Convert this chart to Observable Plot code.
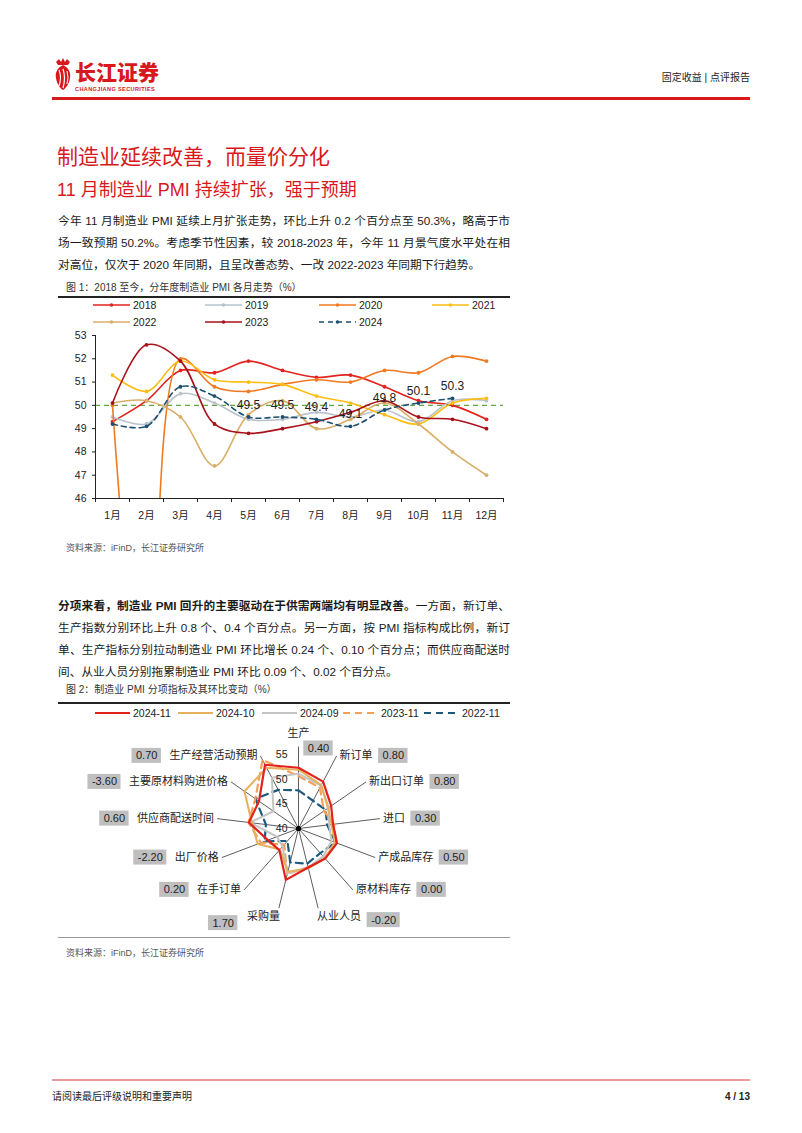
<!DOCTYPE html>
<html><head><meta charset="utf-8">
<script src="https://cdn.jsdelivr.net/npm/d3@7"></script>
<script src="https://cdn.jsdelivr.net/npm/@observablehq/plot@0.6"></script>
<style>
html,body{margin:0;padding:0;background:#fff}
body{width:802px;height:1133px;position:relative;overflow:hidden;font-family:"Liberation Sans","Noto Sans CJK SC",sans-serif;color:#222}
.abs{position:absolute}
.line{position:absolute;left:58px;width:452px;height:22px;line-height:22px;font-size:11.7px;white-space:nowrap;text-align:justify;text-align-last:justify;color:#1a1a1a}
.line.last{text-align-last:left}
.cap{position:absolute;left:66px;font-size:10px;line-height:14px;color:#333;white-space:nowrap}
.src{position:absolute;left:66px;font-size:9px;line-height:12px;color:#555;white-space:nowrap}
.leg{position:absolute;font-size:10.5px;line-height:12px;color:#222;white-space:nowrap;display:flex;align-items:center}
.leg svg{margin-right:3px}
</style></head><body>

<!-- header -->
<svg class="abs" style="left:52px;top:57px" width="22" height="34" viewBox="0 0 22 34">
  <path d="M4 5 L7 2 L9 5 L11 1 L13 5 L15 2 L18 5 L16 8 L6 8 Z" fill="#d7191c"/>
  <path d="M11 8 C5 11 3 16 4 21 C5 28 9 32 11 33 C13 32 17 28 18 21 C19 16 17 11 11 8Z" fill="#d7191c"/>
  <path d="M7 13 Q10 20 7 29" stroke="#fff" stroke-width="1.2" fill="none"/>
  <path d="M11 12 Q14 21 11 31" stroke="#fff" stroke-width="1.2" fill="none"/>
  <path d="M15 14 Q17 20 15 27" stroke="#fff" stroke-width="1" fill="none"/>
</svg>
<div class="abs" style="left:75px;top:59px;font-size:21px;line-height:24px;font-weight:900;color:#d7191c;font-family:'Noto Sans CJK SC',sans-serif">长江证券</div>
<div class="abs" style="left:75px;top:85.5px;font-size:5.6px;line-height:6px;font-weight:bold;color:#d7191c;letter-spacing:0.35px">CHANGJIANG SECURITIES</div>
<div class="abs" style="right:52px;top:71px;font-size:10px;line-height:14px;color:#222;white-space:nowrap">固定收益 | 点评报告</div>
<div class="abs" style="left:52px;top:97px;width:698px;height:2.5px;background:#d7191c"></div>

<!-- titles -->
<div class="abs" style="left:57px;top:144px;font-size:21px;line-height:26px;color:#d7191c;white-space:nowrap">制造业延续改善，而量价分化</div>
<div class="abs" style="left:57px;top:178px;font-size:18px;line-height:24px;color:#d7191c;white-space:nowrap">11 月制造业 PMI 持续扩张，强于预期</div>

<!-- paragraph 1 -->
<div class="line" style="top:210px">今年 11 月制造业 PMI 延续上月扩张走势，环比上升 0.2 个百分点至 50.3%，略高于市</div>
<div class="line" style="top:232px">场一致预期 50.2%。考虑季节性因素，较 2018-2023 年，今年 11 月景气度水平处在相</div>
<div class="line last" style="top:254px">对高位，仅次于 2020 年同期，且呈改善态势、一改 2022-2023 年同期下行趋势。</div>

<!-- figure 1 -->
<div class="cap" style="top:281px">图 1：2018 至今，分年度制造业 PMI 各月走势（%）</div>
<div class="abs" style="left:58px;top:296px;width:452px;height:1.5px;background:#222"></div>
<div id="legend1"></div>
<div id="chart1" class="abs" style="left:52px;top:328px"></div>
<div class="src" style="top:542px">资料来源：iFinD，长江证券研究所</div>

<!-- paragraph 2 -->
<div class="line" style="top:595px"><b>分项来看，制造业 PMI 回升的主要驱动在于供需两端均有明显改善。</b>一方面，新订单、</div>
<div class="line" style="top:617px">生产指数分别环比上升 0.8 个、0.4 个百分点。另一方面，按 PMI 指标构成比例，新订</div>
<div class="line" style="top:639px">单、生产指标分别拉动制造业 PMI 环比增长 0.24 个、0.10 个百分点；而供应商配送时</div>
<div class="line last" style="top:661px">间、从业人员分别拖累制造业 PMI 环比 0.09 个、0.02 个百分点。</div>

<!-- figure 2 -->
<div class="cap" style="top:683px">图 2：制造业 PMI 分项指标及其环比变动（%）</div>
<div class="abs" style="left:58px;top:702px;width:452px;height:1.5px;background:#222"></div>
<div id="legend2"></div>
<div id="chart2" class="abs" style="left:52px;top:720px"></div>
<div class="abs" style="left:58px;top:937px;width:452px;height:1px;background:#9a9a9a"></div>
<div class="src" style="top:947px">资料来源：iFinD，长江证券研究所</div>

<!-- footer -->
<div class="abs" style="left:52px;top:1079px;width:698px;height:1.5px;background:#ef9a9a"></div>
<div class="abs" style="left:52px;top:1090px;font-size:10px;line-height:14px;color:#222;white-space:nowrap">请阅读最后评级说明和重要声明</div>
<div class="abs" style="right:52px;top:1090px;font-size:10px;line-height:14px;color:#222;font-weight:bold;white-space:nowrap">4 / 13</div>

<script>
// ---------------- Figure 1 data ----------------
const months = ["1月","2月","3月","4月","5月","6月","7月","8月","9月","10月","11月","12月"];
const years = ["2018","2019","2020","2021","2022","2023","2024"];
const pmi2018 = [49.3, 50.2, 51.5, 51.4, 51.9, 51.5, 51.2, 51.3, 50.8, 50.2, 50.0, 49.4];
const pmi2019 = [49.5, 49.2, 50.5, 50.1, 49.4, 49.4, 49.7, 49.5, 49.8, 49.3, 50.2, 50.2];
const pmi2020 = [50.0, 35.7, 52.0, 50.8, 50.6, 50.9, 51.1, 51.0, 51.5, 51.4, 52.1, 51.9];
const pmi2021 = [51.3, 50.6, 51.9, 51.1, 51.0, 50.9, 50.4, 50.1, 49.6, 49.2, 50.1, 50.3];
const pmi2022 = [50.1, 50.2, 49.5, 47.4, 49.6, 50.2, 49.0, 49.4, 50.1, 49.2, 48.0, 47.0];
const pmi2023 = [50.1, 52.6, 51.9, 49.2, 48.8, 49.0, 49.3, 49.7, 50.2, 49.5, 49.4, 49.0];
const pmi2024 = [49.2, 49.1, 50.8, 50.4, 49.5, 49.5, 49.4, 49.1, 49.8, 50.1, 50.3];
const labelFromMonth = 5; // 2024 values labelled from May
const yTicks = [46, 47, 48, 49, 50, 51, 52, 53];
const baseline = 50;

// ---------------- Figure 2 data ----------------
const indicators = ["生产","新订单","新出口订单","进口","产成品库存","原材料库存","从业人员","采购量","在手订单","出厂价格","供应商配送时间","主要原材料购进价格","生产经营活动预期"];
const momChange = [0.40, 0.80, 0.80, 0.30, 0.50, 0.00, -0.20, 1.70, 0.20, -2.20, 0.60, -3.60, 0.70];
const v2024_11 = [52.4, 50.8, 48.1, 47.1, 48.4, 48.2, 48.2, 50.8, 45.9, 46.7, 50.2, 49.8, 54.7];
const v2024_10 = [52.0, 50.0, 47.3, 46.8, 47.9, 48.2, 48.4, 49.1, 45.7, 48.9, 49.6, 53.4, 54.0];
const v2024_09 = [51.2, 49.9, 47.5, 46.3, 47.2, 47.6, 48.2, 49.4, 44.9, 44.7, 50.0, 46.2, 51.7];
const v2023_11 = [50.7, 49.4, 46.3, 47.3, 48.2, 48.0, 48.1, 49.6, 44.4, 48.2, 50.3, 50.7, 55.8];
const v2022_11 = [47.8, 46.4, 46.7, 45.9, 48.1, 46.7, 47.4, 47.1, 43.4, 47.4, 46.7, 50.7, 48.9];
const radialTicks = [40, 45, 50, 55];

// ---------------- styles ----------------
const FONT = '"Liberation Sans","Noto Sans CJK SC",sans-serif';
const yearStyle = {
  "2018": {color: "#e3231f", dash: null},
  "2019": {color: "#b9c3cc", dash: null},
  "2020": {color: "#f07a22", dash: null},
  "2021": {color: "#fdbd12", dash: null},
  "2022": {color: "#d9ae68", dash: null},
  "2023": {color: "#a8101a", dash: null},
  "2024": {color: "#1c4f70", dash: "5,4"}
};
const yearValues = {"2018": pmi2018, "2019": pmi2019, "2020": pmi2020, "2021": pmi2021, "2022": pmi2022, "2023": pmi2023, "2024": pmi2024};

// legend 1
(function(){
  const cols = [93, 205, 319, 432];
  const rowsY = [299, 316];
  const L = document.getElementById("legend1");
  years.forEach((y, i) => {
    const s = yearStyle[y];
    const d = document.createElement("div");
    d.className = "leg";
    d.style.left = cols[i % 4] + "px";
    d.style.top = rowsY[Math.floor(i / 4)] + "px";
    d.innerHTML = `<svg width="37" height="8"><line x1="0" y1="4" x2="37" y2="4" stroke="${s.color}" stroke-width="1.5" ${s.dash ? `stroke-dasharray="${s.dash}"` : ""}/><circle cx="18.5" cy="4" r="1.8" fill="${s.color}"/></svg><span>${y}</span>`;
    L.appendChild(d);
  });
})();

// chart 1
(function(){
  const rows = [];
  years.forEach(y => yearValues[y].forEach((v, i) => rows.push({year: y, month: i + 1, value: v})));
  const monthIdx = months.map((m, i) => i + 1);
  const bounds = d3.range(0, 13).map(i => i + 0.5);
  const marks = [
    Plot.ruleY([baseline], {stroke: "#5fa83c", strokeWidth: 1.4, strokeDasharray: "5,4"})
  ];
  years.forEach(y => {
    const s = yearStyle[y];
    const data = rows.filter(r => r.year === y);
    marks.push(Plot.line(data, {x: "month", y: "value", stroke: s.color, strokeWidth: 1.6, strokeDasharray: s.dash, curve: "catmull-rom", clip: true}));
    marks.push(Plot.dot(data, {x: "month", y: "value", fill: s.color, r: 1.9, clip: true}));
  });
  marks.push(Plot.text(rows.filter(r => r.year === "2024" && r.month >= labelFromMonth), {x: "month", y: "value", text: d => d.value.toFixed(1), dy: -12, fontSize: 12, fill: "#222"}));
  marks.push(Plot.ruleY([46], {stroke: "#222", strokeWidth: 1}));
  marks.push(Plot.ruleX([0.5], {y1: 46, y2: 53, stroke: "#222", strokeWidth: 1}));
  marks.push(Plot.axisX(bounds, {tickSize: 4, tickFormat: () => "", stroke: "#222", label: null}));
  marks.push(Plot.axisX(monthIdx, {tickSize: 0, tickPadding: 13, tickFormat: i => months[i - 1], fontSize: 10.5, fill: "#222", label: null}));
  marks.push(Plot.axisY(yTicks, {tickSize: 3, tickPadding: 6, fontSize: 10.5, fill: "#222", stroke: "#222", label: null}));
  const chart = Plot.plot({
    width: 460, height: 212,
    marginTop: 7, marginBottom: 42, marginLeft: 43, marginRight: 9,
    x: {domain: [0.5, 12.5], label: null},
    y: {domain: [46, 53], label: null},
    style: {fontFamily: FONT, fontSize: "10.5px", color: "#222", background: "transparent", overflow: "visible"},
    marks
  });
  document.getElementById("chart1").appendChild(chart);
})();

// legend 2
const radarSeries = [
  {name: "2024-11", values: v2024_11, color: "#e3211c", dash: null, w: 2.2},
  {name: "2024-10", values: v2024_10, color: "#e6b05c", dash: null, w: 2},
  {name: "2024-09", values: v2024_09, color: "#c4c4c4", dash: null, w: 2},
  {name: "2023-11", values: v2023_11, color: "#f4a05a", dash: "7,5", w: 2.2},
  {name: "2022-11", values: v2022_11, color: "#1c5a7d", dash: "7,5", w: 2.2}
];
(function(){
  const lefts = [95, 178, 262, 343, 424];
  const L = document.getElementById("legend2");
  radarSeries.forEach((s, i) => {
    const d = document.createElement("div");
    d.className = "leg";
    d.style.left = lefts[i] + "px";
    d.style.top = "707px";
    d.innerHTML = `<svg width="35" height="6"><line x1="0" y1="3" x2="35" y2="3" stroke="${s.color}" stroke-width="2" ${s.dash ? `stroke-dasharray="${s.dash}"` : ""}/></svg><span>${s.name}</span>`;
    L.appendChild(d);
  });
})();

// chart 2 (radar)
(function(){
  const K = 4.9;           // px per index point
  const R0 = radialTicks[0];
  const n = indicators.length;
  const ang = i => i * 2 * Math.PI / n;
  const spoke = 82 / K;
  const W = 460, H = 216, cx = 246, cy = 108;

  const pts = [];
  radarSeries.forEach(s => s.values.forEach((v, i) => pts.push({series: s.name, i, x: (v - R0) * Math.sin(ang(i)), y: (v - R0) * Math.cos(ang(i))})));

  const labels = indicators.map((name, i) => {
    const s = Math.sin(ang(i)), c = Math.cos(ang(i));
    const ex = spoke * s, ey = spoke * c;
    let side;
    if (i === 0) side = "top";
    else if (s > 0.3) side = "right";
    else if (s < -0.3) side = "left";
    else side = s > 0 ? "br" : "bl";
    const tw = name.length * 11;
    const val = momChange[i].toFixed(2);
    const bw = (val.replace(/[-.]/g, "").length * 0.556 + 0.278 + (val.startsWith("-") ? 0.333 : 0)) * 11 + 8;
    let bx, by;
    if (side === "top") { bx = ex + 20 / K; by = ey - 2 / K; }
    else if (side === "right") { bx = ex + (3 + tw + 6 + bw / 2) / K; by = ey; }
    else if (side === "left") { bx = ex - (3 + tw + 8 + bw / 2) / K; by = ey; }
    else if (side === "br") { bx = ex + (tw + 5 + bw / 2) / K; by = ey - 12 / K; }
    else { bx = ex - (tw + 8 + bw / 2) / K; by = ey - 15 / K; }
    return {name, i, ex, ey, side, bx, by, bw, val};
  });

  const marks = [];
  marks.push(Plot.link(labels, {x1: 0, y1: 0, x2: "ex", y2: "ey", stroke: "#333", strokeWidth: 0.8}));
  radarSeries.slice().reverse().forEach(s => {
    marks.push(Plot.line(pts.filter(p => p.series === s.name), {x: "x", y: "y", curve: "linear-closed", stroke: s.color, strokeWidth: s.w, strokeDasharray: s.dash}));
  });
  marks.push(Plot.dot([0], {x: 0, y: 0, r: 2.6, fill: "#000"}));
  marks.push(Plot.text(radialTicks, {x: 0, y: d => d - R0, text: d => String(d), textAnchor: "end", dx: -11, fontSize: 10.5, fill: "#222"}));
  const sideOpts = {
    top: {textAnchor: "middle", dy: -13},
    right: {textAnchor: "start", dx: 3},
    left: {textAnchor: "end", dx: -3},
    br: {textAnchor: "start", dx: -1, dy: 8},
    bl: {textAnchor: "end", dx: 1, dy: 8}
  };
  Object.entries(sideOpts).forEach(([side, o]) => {
    marks.push(Plot.text(labels.filter(l => l.side === side), {x: "ex", y: "ey", text: "name", fontSize: 11, fill: "#222", ...o}));
  });
  marks.push(Plot.rect(labels, {x1: d => d.bx - d.bw / 2 / K, x2: d => d.bx + d.bw / 2 / K, y1: d => d.by - 7.5 / K, y2: d => d.by + 7.5 / K, fill: "#bfbfbf"}));
  marks.push(Plot.text(labels, {x: "bx", y: "by", text: "val", fontSize: 11, fill: "#222"}));

  const chart = Plot.plot({
    width: W, height: H, margin: 0,
    x: {domain: [-cx / K, (W - cx) / K], axis: null},
    y: {domain: [-cy / K, (H - cy) / K], axis: null},
    style: {fontFamily: FONT, fontSize: "11px", color: "#222", background: "transparent", overflow: "visible"},
    marks
  });
  document.getElementById("chart2").appendChild(chart);
})();
</script>
</body></html>
